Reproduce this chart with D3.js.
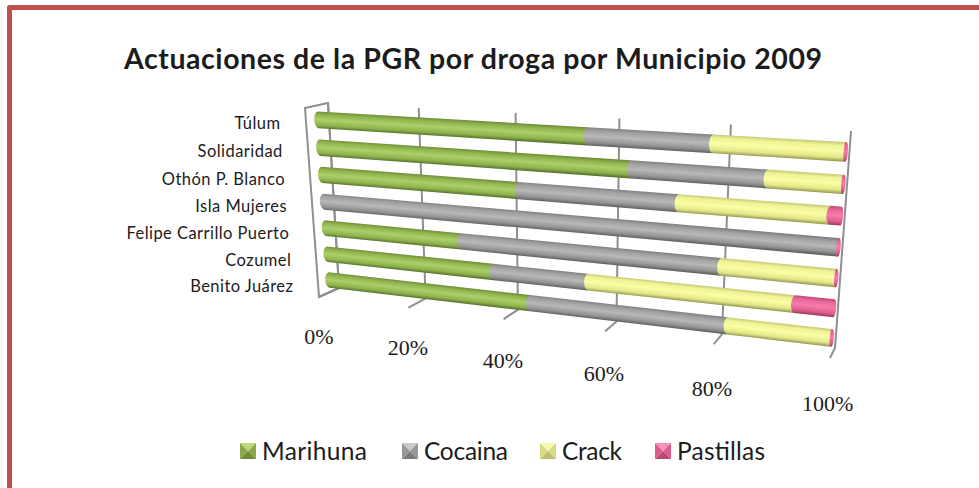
<html lang="es">
<head>
    <meta charset="utf-8">
    <title>Actuaciones de la PGR por droga por Municipio 2009</title>
    <style>
        html, body { margin: 0; padding: 0; background: #fff; overflow: hidden; }
        text { fill: #1c1c1c; }
    </style>
</head>
<body>
<svg id="chart" width="979" height="488"></svg>
<script src="https://d3js.org/d3.v7.min.js"></script>
<script>
    // data, top row first
    var municipios = ["Túlum", "Solidaridad", "Othón P. Blanco", "Isla Mujeres", "Felipe Carrillo Puerto", "Cozumel", "Benito Juárez"];
    var drogas = ["Marihuna", "Cocaina", "Crack", "Pastillas"];
    var marihuna = [55.2, 63.3, 41.8, 0, 29.7, 36.4, 43.8];
    var cocaina = [22.6, 24.1, 30.3, 99.8, 50.4, 19, 37.9];
    var crack = [22, 12.4, 26.1, 0, 19.7, 37.9, 18.1];
    var pastillas = [0.2, 0.2, 1.8, 0.2, 0.2, 6.7, 0.2];
    var ticks = [0, 20, 40, 60, 80, 100];
    var series = [marihuna, cocaina, crack, pastillas];

    // top edge, mid, bottom edge of each cylinder
    var tonos = {
        Marihuna: ["#6f8d38", "#8fb34e", "#abcf69", "#8eb24c", "#54702a"],
        Cocaina: ["#808080", "#a0a0a0", "#b8b8b8", "#939393", "#5f5f5f"],
        Crack: ["#c4c976", "#eef393", "#fbfea4", "#e2e788", "#959a52"],
        Pastillas: ["#bd4776", "#e8659a", "#f67cab", "#dc5d8c", "#9c365f"]
    };
    var pillow = {
        Marihuna: ["#bcd878", "#8aa948", "#8aa948", "#6f8c36"],
        Cocaina: ["#cacaca", "#979797", "#979797", "#7a7a7a"],
        Crack: ["#f6f9ae", "#d6db84", "#d6db84", "#bcc070"],
        Pastillas: ["#f693ba", "#dc5c8c", "#dc5c8c", "#bd4674"]
    };

    var svg = d3.select("#chart");
    var defs = svg.append("defs");
    defs.append("filter").attr("id", "soft")
        .append("feGaussianBlur").attr("stdDeviation", 0.45);

    // maps the unit square onto a four sided shape, that is the 3D look
    function perspectiva(tl, tr, br, bl) {
        var sx = tl[0] - tr[0] + br[0] - bl[0], sy = tl[1] - tr[1] + br[1] - bl[1];
        var dx1 = tr[0] - br[0], dx2 = bl[0] - br[0], dy1 = tr[1] - br[1], dy2 = bl[1] - br[1];
        var det = dx1 * dy2 - dx2 * dy1;
        var g = (sx * dy2 - dx2 * sy) / det, h = (dx1 * sy - sx * dy1) / det;
        var a = tr[0] - tl[0] + g * tr[0], b = bl[0] - tl[0] + h * bl[0];
        var d = tr[1] - tl[1] + g * tr[1], e = bl[1] - tl[1] + h * bl[1];
        return function(u, v) {
            var w = g * u + h * v + 1;
            return [(a * u + b * v + tl[0]) / w, (d * u + e * v + tl[1]) / w];
        };
    }

    var xScale = d3.scaleLinear().domain([0, 100]).range([0, 1]);
    var yScale = d3.scalePoint().domain(municipios).range([0, 1]);
    var legendX = d3.scaleOrdinal().domain(drogas).range([240, 402, 540, 655]);
    var legendW = d3.scaleOrdinal().domain(drogas).range([105, 84, 60, 88]);

    var barras = perspectiva([318, 120], [846, 152], [832, 338], [329, 280]);
    var fondo = perspectiva([328, 103], [851, 131], [835, 348], [339, 288]);
    var frente = perspectiva([305, 108], [827, 136], [830, 358], [319, 297]);

    // frame
    svg.append("path")
        .attr("d", "M9.5,488V7.5H979")
        .attr("fill", "none")
        .attr("stroke", "#c0504d")
        .attr("stroke-width", 5)
        .attr("stroke-linejoin", "round");

    svg.append("text")
        .attr("x", 473).attr("y", 69)
        .attr("text-anchor", "middle")
        .attr("textLength", 698)
        .style("font", "bold 28.5px Lato")
        .text("Actuaciones de la PGR por droga por Municipio 2009");

    // walls and grid
    var plot = svg.append("g").attr("filter", "url(#soft)");
    var linea = d3.line();
    var muro = plot.append("g")
        .attr("fill", "none")
        .attr("stroke", "#8f8f8f")
        .attr("stroke-width", 2);

    muro.append("path").attr("d", linea([frente(0, 0), fondo(0, 0), fondo(0, 1), frente(0, 1)]) + "Z");
    muro.selectAll(".grid")
        .data(ticks)
        .enter()
        .append("path")
        .attr("class", "grid")
        .attr("d", t => linea([fondo(xScale(t), 0), fondo(xScale(t), 1), frente(xScale(t), 1)]));

    // one bar = stacked cylinder pieces, drawn left to right so each one overlaps the last
    var medio = 0.05;
    var trozos = [];
    municipios.forEach((m, i) => {
        var acum = 0;
        series.forEach((s, j) => {
            if (s[i] > 0) {
                trozos.push({ municipio: m, droga: drogas[j], desde: acum, hasta: acum + s[i], fila: i });
            }
            acum += s[i];
        });
    });

    function cilindro(t) {
        var v = yScale(t.municipio), u0 = xScale(t.desde), u1 = xScale(t.hasta);
        var a = barras(u0, v - medio), b = barras(u1, v - medio), c = barras(u1, v + medio), e = barras(u0, v + medio);
        var izq = Math.min(5, (b[0] - a[0]) * 1.2), der = t.hasta > 99.9 ? 2.5 : 0;
        return "M" + a + "L" + b
            + "C" + [b[0] + der, b[1] + 2] + " " + [c[0] + der, c[1] - 2] + " " + c
            + "L" + e
            + "C" + [e[0] - izq, e[1] - 2] + " " + [a[0] - izq, a[1] + 2] + " " + a + "Z";
    }

    trozos.forEach((t, i) => {
        var v = yScale(t.municipio), um = xScale((t.desde + t.hasta) / 2);
        var p0 = barras(xScale(t.desde), v), p1 = barras(xScale(t.hasta), v), pm = barras(um, v);
        var len = Math.hypot(p1[0] - p0[0], p1[1] - p0[1]) || 1;
        var nx = -(p1[1] - p0[1]) / len, ny = (p1[0] - p0[0]) / len;
        var arriba = barras(um, v - medio), abajo = barras(um, v + medio);
        var r = Math.hypot(abajo[0] - arriba[0], abajo[1] - arriba[1]) / 2;
        var grad = defs.append("linearGradient")
            .attr("id", "g" + i)
            .attr("gradientUnits", "userSpaceOnUse")
            .attr("x1", pm[0] - nx * r).attr("y1", pm[1] - ny * r)
            .attr("x2", pm[0] + nx * r).attr("y2", pm[1] + ny * r);
        grad.selectAll("stop")
            .data(tonos[t.droga])
            .enter()
            .append("stop")
            .attr("offset", (d, k) => [0, 0.18, 0.48, 0.8, 1][k])
            .attr("stop-color", d => d);
    });

    plot.selectAll(".trozo")
        .data(trozos)
        .enter()
        .append("path")
        .attr("class", "trozo")
        .attr("d", cilindro)
        .attr("fill", (t, i) => "url(#g" + i + ")");

    // category labels sit left of the bars and follow the slant
    svg.append("g").selectAll("text")
        .data(municipios)
        .enter()
        .append("text")
        .attr("x", d => barras(-0.085, yScale(d) * 1.035)[0])
        .attr("y", d => barras(-0.085, yScale(d) * 1.035)[1] + 11)
        .attr("text-anchor", "end")
        .style("font", "16.5px Lato")
        .style("letter-spacing", "0.45px")
        .text(d => d);

    // percent labels below the floor
    svg.append("g").selectAll("text")
        .data(ticks)
        .enter()
        .append("text")
        .attr("x", t => frente(xScale(t), 1.215)[0] - 3)
        .attr("y", t => frente(xScale(t), 1.215)[1] + 7)
        .attr("text-anchor", "middle")
        .style("font", "22px 'Liberation Serif'")
        .text(t => t + "%");

    // legend
    var leg = svg.append("g");
    drogas.forEach(d => {
        var item = leg.append("g").attr("transform", "translate(" + legendX(d) + ",443)");
        var n = 16;
        var caras = [[[0, 0], [n, 0], [n / 2, n / 2]], [[n, 0], [n, n], [n / 2, n / 2]], [[0, n], [n, n], [n / 2, n / 2]], [[0, 0], [0, n], [n / 2, n / 2]]];
        item.append("g").attr("filter", "url(#soft)")
            .selectAll("path")
            .data(caras)
            .enter()
            .append("path")
            .attr("d", c => linea(c) + "Z")
            .attr("fill", (c, k) => pillow[d][[0, 1, 3, 2][k]]);
        item.append("text")
            .attr("x", 22).attr("y", 17)
            .attr("textLength", legendW(d))
            .style("font", "24.5px Lato")
            .text(d);
    });
</script>
</body>
</html>
